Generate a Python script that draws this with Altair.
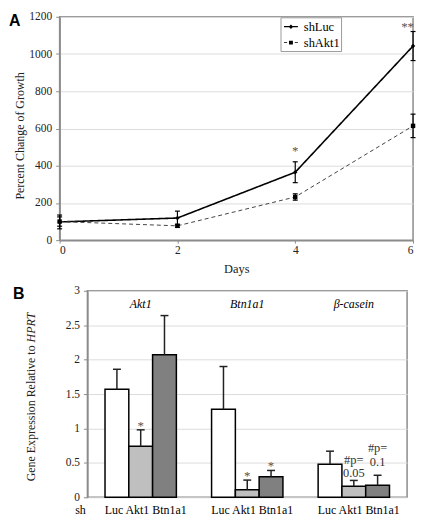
import altair as alt
import pandas as pd

SERIF = "Liberation Serif"

# ---------------- Panel A data ----------------
days = [0, 2, 4, 6]
series_names = ["shLuc", "shAkt1"]
luc_mean = [98, 119, 365, 1043]
luc_err = [37, 37, 56, 78]
akt_mean = [100, 77, 232, 614]
akt_err = [25, 8, 17, 63]
star_days = [4, 6]
star_vals = [457, 1124]
star_text = ["*", "**"]

# ---------------- Panel B data ----------------
genes = ["Akt1", "Btn1a1", "β-casein"]
sh_names = ["Luc", "Akt1", "Btn1a1"]
akt1_expr = [1.57, 0.74, 2.07]
akt1_sd = [0.29, 0.24, 0.57]
btn_expr = [1.28, 0.11, 0.30]
btn_sd = [0.62, 0.14, 0.09]
cas_expr = [0.48, 0.16, 0.175]
cas_sd = [0.19, 0.085, 0.145]
stars = ["", "*", "", "", "*", "*", "", "", ""]
p_line1 = ["", "", "", "", "", "", "", "#p=", "#p="]
p_line2 = ["", "", "", "", "", "", "", "0.05", "0.1"]
p_pos1 = [0, 0, 0, 0, 0, 0, 0, 0.49, 0.66]
p_pos2 = [0, 0, 0, 0, 0, 0, 0, 0.29, 0.45]

WA, HA = 356, 225
WB, HB = 322, 208

# ---------------- Panel A ----------------
dfA = pd.DataFrame({
    "day": days * 2,
    "series": [series_names[0]] * 4 + [series_names[1]] * 4,
    "mean": luc_mean + akt_mean,
    "err": luc_err + akt_err,
})
dfA["lo"] = dfA["mean"] - dfA["err"]
dfA["hi"] = dfA["mean"] + dfA["err"]

xA = alt.X("day:Q", scale=alt.Scale(domain=[0, 6], nice=False),
           axis=alt.Axis(values=days, tickCount=10, format="d", title="Days", grid=False,
                         labelPadding=1, tickSize=3, titlePadding=7, labelOverlap=False,
                         labelFont=SERIF, titleFont=SERIF))
yA = alt.Y("mean:Q", scale=alt.Scale(domain=[0, 1200], nice=False),
           axis=alt.Axis(values=list(range(0, 1201, 200)), tickCount=10, format="d",
                         title=None, labelOverlap=False, labelFont=SERIF))

baseA = alt.Chart(dfA)
lines = baseA.mark_line().encode(
    x=xA, y=yA,
    color=alt.Color("series:N", scale=alt.Scale(domain=series_names, range=["black", "#444444"]), legend=None),
    strokeDash=alt.StrokeDash("series:N", scale=alt.Scale(domain=series_names, range=[[1, 0], [4, 3]]), legend=None),
    strokeWidth=alt.StrokeWidth("series:N", scale=alt.Scale(domain=series_names, range=[1.6, 1.0]), legend=None),
)
err_rule = baseA.mark_rule(color="black", strokeWidth=1.2).encode(
    x="day:Q", y="lo:Q", y2="hi:Q")
cap_hi = baseA.mark_point(shape="stroke", size=25, filled=False, color="black",
                          strokeWidth=1.2, opacity=1).encode(x="day:Q", y="hi:Q")
cap_lo = baseA.mark_point(shape="stroke", size=25, filled=False, color="black",
                          strokeWidth=1.2, opacity=1).encode(x="day:Q", y="lo:Q")
markers = baseA.mark_point(filled=True, color="black", opacity=1, size=20).encode(
    x="day:Q", y="mean:Q",
    shape=alt.Shape("series:N", scale=alt.Scale(domain=series_names, range=["diamond", "square"]), legend=None),
)

# legend (box + two entries)
luc_path = "M-1,-0.09H1V0.09H-1ZM0,-0.32L0.32,0L0,0.32L-0.32,0Z"
akt_path = "M-1,-0.06H-0.55V0.06H-1ZM0.55,-0.06H1V0.06H0.55ZM-0.28,-0.28H0.28V0.28H-0.28Z"
legBox = alt.Chart(pd.DataFrame({"k": [0]})).mark_rect(
    fill="white", stroke="#999999", strokeWidth=1).encode(
    x=alt.value(223), x2=alt.value(284), y=alt.value(1), y2=alt.value(35))
leg_rows = []
for name, path, ypos in [(series_names[0], luc_path, 10), (series_names[1], akt_path, 26)]:
    dfL = pd.DataFrame({"series": [name]})
    leg_rows.append(alt.Chart(dfL).mark_point(shape=path, size=196, filled=True, color="black",
                                              opacity=1).encode(x=alt.value(233), y=alt.value(ypos)))
    leg_rows.append(alt.Chart(dfL).mark_text(font=SERIF, fontSize=12.5, align="left", baseline="middle",
                                             color="black").encode(
        text="series:N", x=alt.value(246), y=alt.value(ypos)))

dfStar = pd.DataFrame({"day": star_days, "v": star_vals, "t": star_text})
star1 = alt.Chart(dfStar).transform_filter("datum.day < 6").mark_text(
    font=SERIF, fontSize=13, baseline="alphabetic", color="#555").encode(
    x="day:Q", y="v:Q", text="t:N")
star2 = alt.Chart(dfStar).transform_filter("datum.day >= 6").mark_text(
    font=SERIF, fontSize=13, baseline="alphabetic", align="right", dx=1, color="#555").encode(
    x="day:Q", y="v:Q", text="t:N")
labelA = alt.Chart(pd.DataFrame({"t": ["A"]})).mark_text(
    font="Liberation Sans", fontWeight="bold", fontSize=16, align="left", baseline="top",
    color="black").encode(text="t:N", x=alt.value(-51), y=alt.value(-4))
ytitleA = alt.Chart(pd.DataFrame({"t": ["Percent Change of Growth"]})).mark_text(
    font=SERIF, fontSize=12, angle=270, align="center", baseline="middle", color="#222").encode(
    text="t:N", x=alt.value(-40), y=alt.value(120))

panelA = alt.layer(lines, err_rule, cap_hi, cap_lo, markers, star1, star2,
                   legBox, *leg_rows, labelA, ytitleA).properties(width=WA, height=HA)

# ---------------- Panel B ----------------
dfB = pd.DataFrame({
    "gene": [g for g in genes for _ in sh_names],
    "sh": sh_names * 3,
    "val": akt1_expr + btn_expr + cas_expr,
    "sd": akt1_sd + btn_sd + cas_sd,
    "star": stars,
    "p1": p_line1, "p2": p_line2, "py1": p_pos1, "py2": p_pos2,
})
dfB["hi"] = dfB["val"] + dfB["sd"]

xB = alt.X("gene:N", sort=genes, scale=alt.Scale(domain=genes, paddingInner=0, paddingOuter=0), axis=None)
xo = alt.XOffset("sh:N", sort=sh_names, scale=alt.Scale(domain=sh_names, paddingInner=0, paddingOuter=0.74))
yB = alt.Y("val:Q", scale=alt.Scale(domain=[0, 3], nice=False),
           axis=alt.Axis(values=[0, 0.5, 1, 1.5, 2, 2.5, 3], tickCount=10, format="~g", title=None,
                         labelOverlap=False, labelFont=SERIF))

baseB = alt.Chart(dfB)
bars = baseB.mark_bar(stroke="black", strokeWidth=1.5).encode(
    x=xB, xOffset=xo, y=yB,
    fill=alt.Fill("sh:N", scale=alt.Scale(domain=sh_names, range=["white", "#bfbfbf", "#808080"]), legend=None),
)
errB = baseB.mark_rule(color="#222222", strokeWidth=1.5).encode(
    x=xB, xOffset=xo, y="val:Q", y2="hi:Q")
capB = baseB.mark_point(shape="stroke", size=64, filled=False, color="#222222",
                        strokeWidth=1.5, opacity=1).encode(x=xB, xOffset=xo, y="hi:Q")
starsB = baseB.transform_filter("datum.star != ''").mark_text(
    font=SERIF, fontSize=13, baseline="alphabetic", color="#555").encode(
    x=xB, xOffset=xo, y="hi:Q", text="star:N")
pB1 = baseB.transform_filter("datum.p1 != ''").mark_text(
    font=SERIF, fontSize=12.5, baseline="alphabetic", color="#333").encode(
    x=xB, xOffset=xo, y="py1:Q", text="p1:N")
pB2 = baseB.transform_filter("datum.p2 != ''").mark_text(
    font=SERIF, fontSize=12.5, baseline="alphabetic", color="#333").encode(
    x=xB, xOffset=xo, y="py2:Q", text="p2:N")

dfGene = pd.DataFrame({"gene": genes, "lab": [" ".join(sh_names)] * len(genes)})
barLabels = alt.Chart(dfGene).mark_text(font=SERIF, fontSize=12, baseline="middle", dx=5,
                                        color="black").encode(
    x=alt.X("gene:N", sort=genes), y=alt.value(HB + 12.5), text="lab:N")
geneTitles = alt.Chart(dfGene).mark_text(
    font=SERIF, fontSize=12, fontStyle="italic", baseline="middle", color="black").encode(
    x=alt.X("gene:N", sort=genes), y=alt.value(13), text="gene:N")
shLabel = alt.Chart(pd.DataFrame({"t": ["sh"]})).mark_text(
    font=SERIF, fontSize=12, baseline="middle", color="black").encode(
    text="t:N", x=alt.value(-7), y=alt.value(HB + 12.5))

panelB = alt.layer(bars, errB, capB, starsB, pB1, pB2, barLabels, geneTitles,
                   shLabel).properties(width=WB, height=HB)

# side strip holding the panel letter and the y title of panel B
ytitle1 = alt.Chart(pd.DataFrame({"t": ["Gene Expression Relative to"]})).mark_text(
    font=SERIF, fontSize=12, angle=270, align="right", baseline="middle", color="#222").encode(
    text="t:N", x=alt.value(-29), y=alt.value(55))
ytitle2 = alt.Chart(pd.DataFrame({"t": ["HPRT"]})).mark_text(
    font=SERIF, fontSize=12, fontStyle="italic", angle=270, align="left", baseline="middle",
    color="#222").encode(text="t:N", x=alt.value(-29), y=alt.value(52))
labelB = alt.Chart(pd.DataFrame({"t": ["B"]})).mark_text(
    font="Liberation Sans", fontWeight="bold", fontSize=16, align="left", baseline="top",
    color="black").encode(text="t:N", x=alt.value(-47), y=alt.value(-5))
sideB = alt.layer(ytitle1, ytitle2, labelB).properties(
    width=1, height=HB, view=alt.ViewBackground(stroke="transparent", strokeWidth=0))

rowB = alt.hconcat(sideB, panelB, spacing=3)

chart = alt.vconcat(panelA, rowB, spacing=8).properties(
    padding=0
).configure_view(
    stroke="#8c8c8c", strokeWidth=1.5
).configure_axis(
    domainColor="#8c8c8c", domainWidth=1.5, gridColor="#dcdcdc", gridWidth=1,
    tickColor="#8c8c8c", tickSize=4, labelFont=SERIF, titleFont=SERIF,
    labelColor="#222222", titleColor="#222222", titleFontWeight="normal",
    labelFontSize=11.5, titleFontSize=12.5, labelPadding=4
)

chart.save("out.html", embed_options={"renderer": "svg", "actions": False})
